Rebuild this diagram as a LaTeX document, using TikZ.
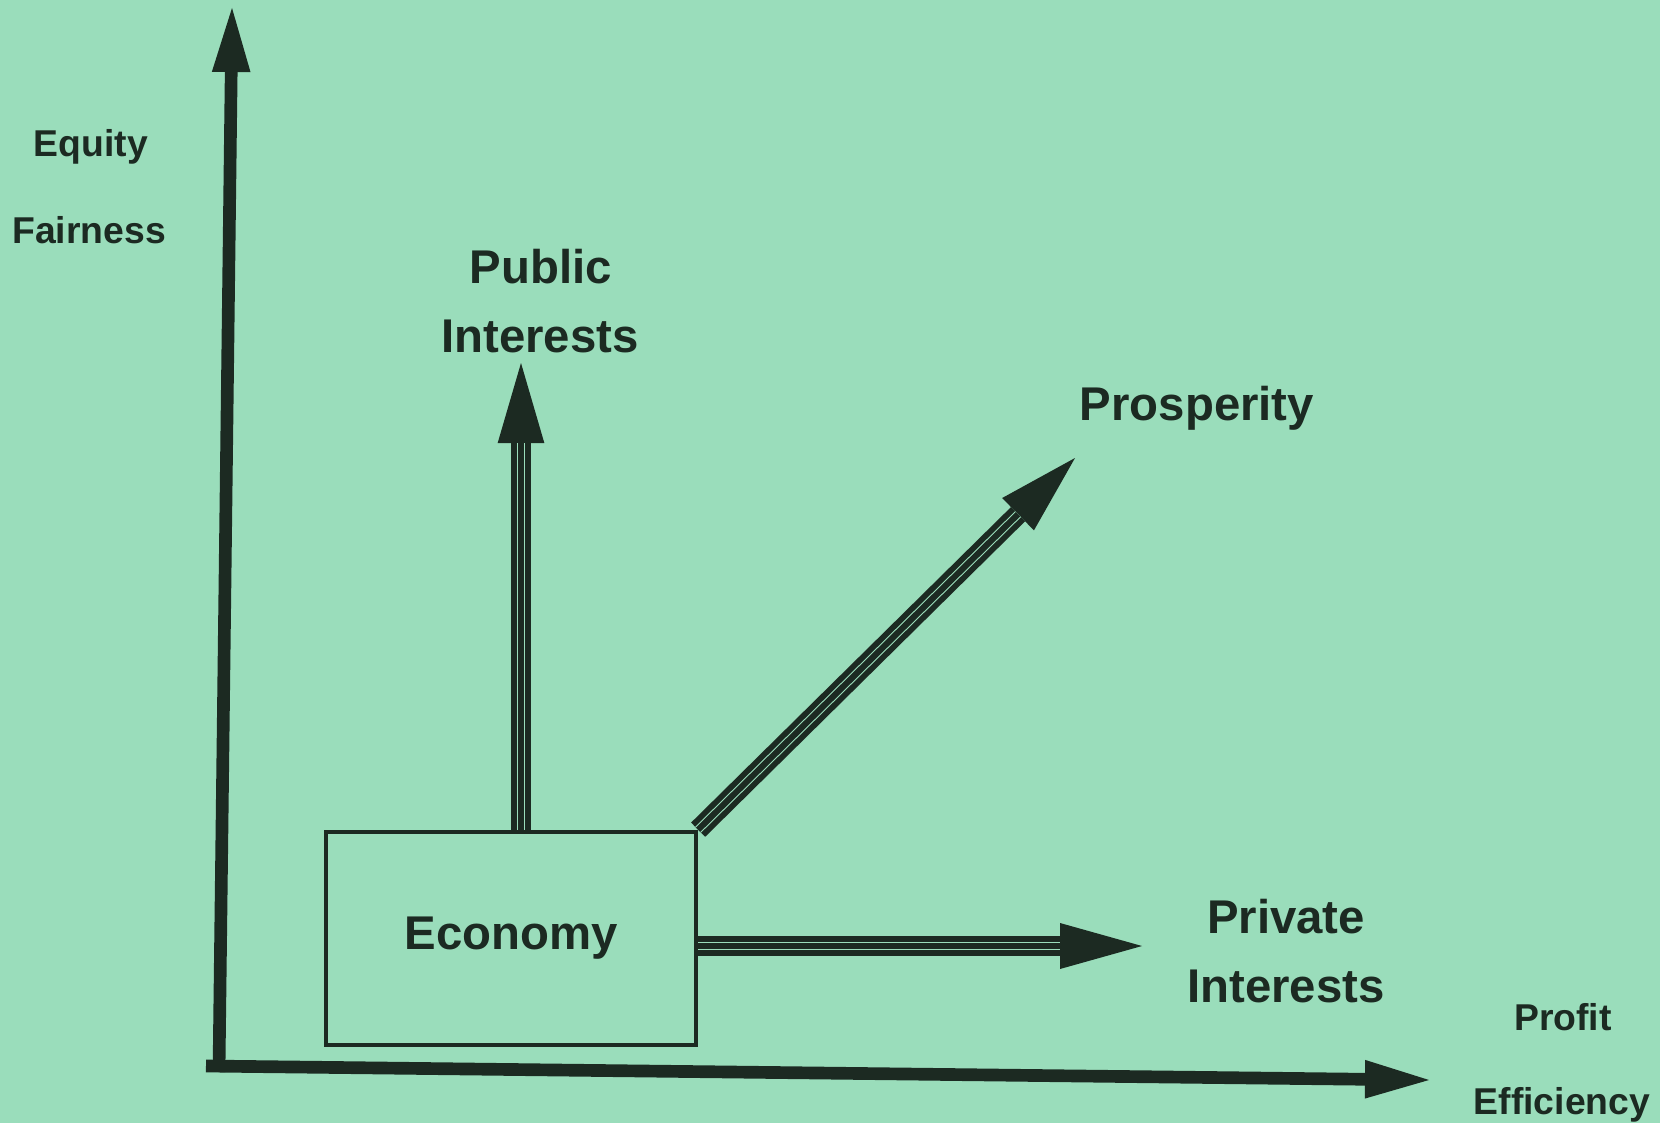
\documentclass[tikz,border=0pt]{standalone}
\usepackage{fontspec}
\setmainfont{Liberation Sans}
\usepackage{tikz}
\usetikzlibrary{arrows.meta}

\definecolor{bggreen}{RGB}{154,221,187}
\definecolor{inkdark}{RGB}{28,42,34}

\tikzset{
  bigtext/.style={anchor=base,inner sep=0pt,text=inkdark,font=\fontsize{35.5}{40}\selectfont\bfseries},
  smalltext/.style={anchor=base,inner sep=0pt,text=inkdark,font=\fontsize{28}{32}\selectfont\bfseries},
  axisline/.style={draw=inkdark,line width=9.5pt,-{Triangle[length=48pt,width=29pt,line width=0pt]}},
  shaft/.style={draw=inkdark,line width=15pt,-{Triangle[length=60pt,width=35pt,line width=0pt]}},
  groove/.style={draw=bggreen,line width=0.8pt,double=inkdark,double distance=4.6pt,shorten >=60pt},
  ecobox/.style={draw=inkdark,line width=3.2pt,minimum width=277.5pt,minimum height=160pt,inner sep=0pt,
    text=inkdark,font=\fontsize{35.5}{40}\selectfont\bfseries,text height=20pt,text depth=2.8pt},
}

\begin{document}
\begin{tikzpicture}[x=0.75pt,y=0.75pt,yscale=-1,xscale=1]
%Background
\fill[bggreen] (0,0) rectangle (1660,1123);
\useasboundingbox (0,0) rectangle (1660,1123);
%Axes end points
\coordinate (xstart) at (206,1066);
\coordinate (ystart) at (219,1072);
\coordinate (xtip) at (1429,1080);
\coordinate (ytip) at (232,8);
%Arrow tips
\coordinate (pubtip) at (521,363);
\coordinate (prostip) at (1075,458);
\coordinate (privtip) at (1142,946);
%Shape: Rectangle
\node[ecobox] (economy) at (511,938.5) {Economy};
%Straight Lines (axes)
\draw[axisline] (ystart) -- (ytip);
\draw[axisline] (xstart) -- (xtip);
%Straight Lines (public)
\draw[shaft] (economy.north -| pubtip) -- (pubtip);
\draw[groove] (economy.north -| pubtip) -- (pubtip);
%Straight Lines (prosperity)
\draw[shaft,-{Triangle[length=60pt,width=34pt,line width=0pt]}] (economy.north east) -- (prostip);
\draw[groove] (economy.north east) -- (prostip);
%Straight Lines (private)
\draw[shaft,-{Triangle[length=61.5pt,width=34.5pt,line width=0pt]}] (economy.east |- privtip) -- (privtip);
\draw[groove,shorten >=61.5pt] (economy.east |- privtip) -- (privtip);
% Text Node
\node[smalltext] (equity) at (91,157) {Equity};
\node[smalltext] (fairness) at (89,244) {Fairness};
\node[bigtext] (public) at (541,284) {Public};
\node[bigtext] (pubint) at (540,353) {Interests};
\node[bigtext] (prosperity) at (1197,420) {Prosperity};
\node[bigtext] (private) at (1286,933) {Private};
\node[bigtext] (privint) at (1286,1002) {Interests};
\node[smalltext] (profit) at (1563,1030) {Profit};
\node[smalltext] (efficiency) at (1562,1114) {Efficiency};
\end{tikzpicture}
\end{document}
